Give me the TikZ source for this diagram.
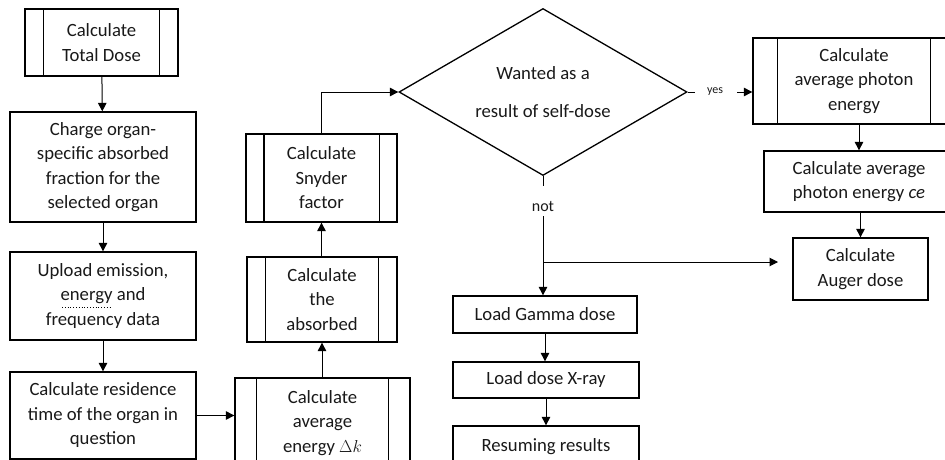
\documentclass[tikz,border=0pt]{standalone}
\usepackage{fontspec}
\setmainfont{Carlito}
\usetikzlibrary{shapes.geometric,arrows.meta}
\tikzset{
  boxline/.style={line width=1.3pt},
  box/.style={draw, boxline, align=center, inner sep=0pt, text=black!90,
    font=\fontsize{18.7}{24.5}\selectfont},
  conn/.style={line width=1pt, -{Triangle[length=8.5pt,width=8.5pt]}},
  plain/.style={line width=1pt},
}
\newcommand\sidebars[2]{%
  \draw[boxline] ([xshift=#2pt]#1.north west) -- ([xshift=#2pt]#1.south west);
  \draw[boxline] ([xshift=-#2pt]#1.north east) -- ([xshift=-#2pt]#1.south east);}
\begin{document}
\begin{tikzpicture}[x=1pt,y=-1pt]
\useasboundingbox (0,0) rectangle (945,460);
\clip (0,0) rectangle (945,460);
% left column
\node[box, minimum width=153pt, minimum height=67pt] (total) at (101.5,42.5) {Calculate\\Total Dose};
\sidebars{total}{19}
\node[box, minimum width=186pt, minimum height=110pt] (charge) at (103,167) {Charge organ-\\specific absorbed\\fraction for the\\selected organ};
\node[box, minimum width=186pt, minimum height=88pt] (upload) at (103,296) {Upload emission,\\energy and\\frequency data};
\draw[line width=0.8pt, dotted] (62,307) -- (112,307);
\node[box, minimum width=186pt, minimum height=87pt] (resid) at (103,415.5) {Calculate residence\\time of the organ in\\question};
% middle column
\node[box, minimum width=175pt, minimum height=90pt] (avg) at (322.5,423) {Calculate\\average\\energy $\Delta k$};
\sidebars{avg}{22}
\node[box, minimum width=150pt, minimum height=85pt] (absorb) at (322,299.5) {Calculate\\the\\absorbed};
\sidebars{absorb}{19}
\node[box, minimum width=151pt, minimum height=88pt] (snyder) at (321.5,178) {Calculate\\Snyder\\factor};
\sidebars{snyder}{18.5}
% decision
\node[box, shape=diamond, aspect=1.72, minimum width=288pt, minimum height=167pt] (dec) at (543,92) {Wanted as a\\[13.5pt]result of self-dose};
% right column
\node[box, minimum width=202pt, minimum height=86pt] (photon) at (854,81) {Calculate\\average photon\\energy};
\sidebars{photon}{25}
\node[box, minimum width=190pt, minimum height=61pt] (ce) at (859,181.5) {Calculate average\\photon energy \textit{ce}};
\node[box, minimum width=135pt, minimum height=62pt] (auger) at (860.5,269) {Calculate\\Auger dose};
% bottom middle
\node[box, minimum width=184pt, minimum height=37pt] (gamma) at (545,314.5) {Load Gamma dose};
\node[box, minimum width=186pt, minimum height=36pt] (xray) at (546,380) {Load dose X-ray};
\node[box, minimum width=186pt, minimum height=42pt] (resum) at (546,447) {Resuming results};
% labels
\node[font=\fontsize{12}{14}\selectfont, text=black!90] (yes) at (715,92) {yes};
\node[font=\fontsize{16}{18}\selectfont, text=black!90] (not) at (543,206) {not};
% connectors
\draw[conn] (total) -- (charge);
\draw[conn] (charge) -- (upload);
\draw[conn] (upload) -- (resid);
\draw[conn] (resid.east) -- (resid.east -| avg.west);
\draw[conn] (avg.north -| absorb.south) -- (absorb.south);
\draw[conn] (absorb.north) -- (absorb.north -| snyder.south) -- (snyder.south);
\draw[conn] (snyder.north) |- (dec.west);
\draw[plain] (dec.east) -- ++(7,0);
\coordinate (yesout) at (737,92);
\draw[conn] (yesout) -- (yesout -| photon.west);
\draw[plain] (dec.south) -- ++(0,10);
\coordinate (notout) at (543,216);
\draw[conn] (notout) -- (notout |- gamma.north);
\coordinate (junc) at (543,262);
\coordinate (augin) at (778,262);
\draw[conn] (junc) -- (augin);
\draw[conn] (ce.north |- photon.south) -- (ce.north);
\draw[conn] (auger.north |- ce.south) -- (auger.north);
\draw[conn] (gamma.south) -- (gamma.south |- xray.north);
\draw[conn] (xray) -- (resum);
\end{tikzpicture}
\end{document}
